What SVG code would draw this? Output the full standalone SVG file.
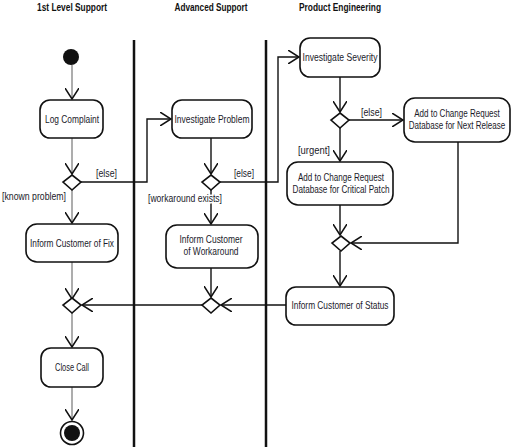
<svg xmlns="http://www.w3.org/2000/svg" width="513" height="447" viewBox="0 0 513 447">
<style>
.node{fill:#fff;stroke:#111;stroke-width:1.6}
.t{font-family:"Liberation Sans",Arial,sans-serif;font-size:11px;fill:#1a1a2a;text-anchor:middle}
.h{font-family:"Liberation Sans",Arial,sans-serif;font-size:11px;font-weight:bold;fill:#111;text-anchor:middle}
.g{font-family:"Liberation Sans",Arial,sans-serif;font-size:11px;fill:#1a1a2a}
.halo{paint-order:stroke;stroke:#fff;stroke-width:3px}
.c{fill:none;stroke:#111;stroke-width:1.4}
.cg{fill:none;stroke:#999;stroke-width:1.6}
.lane{stroke:#111;stroke-width:2.5}
</style>
<defs>
<marker id="a" viewBox="0 0 12 14" refX="11" refY="7" markerWidth="12" markerHeight="14" markerUnits="userSpaceOnUse" orient="auto">
<path d="M0,0 L11,7 L0,14" fill="none" stroke="#111" stroke-width="1.5"/>
</marker>
</defs>
<g id="lanes">
<text class="h" x="72" y="11" textLength="70" lengthAdjust="spacingAndGlyphs">1st Level Support</text>
<text class="h" x="211" y="11" textLength="73" lengthAdjust="spacingAndGlyphs">Advanced Support</text>
<text class="h" x="340" y="11" textLength="82" lengthAdjust="spacingAndGlyphs">Product Engineering</text>
<line class="lane" x1="134" y1="40" x2="134" y2="447"/>
<line class="lane" x1="266" y1="40" x2="266" y2="447"/>
</g>
<g id="connectors">
<line class="cg" x1="72" y1="65" x2="72" y2="99" marker-end="url(#a)"/>
<line class="cg" x1="72" y1="138" x2="72" y2="174" marker-end="url(#a)"/>
<line class="cg" x1="72" y1="190" x2="72" y2="223" marker-end="url(#a)"/>
<line class="cg" x1="72" y1="262" x2="72" y2="299" marker-end="url(#a)"/>
<line class="cg" x1="72" y1="313" x2="72" y2="347" marker-end="url(#a)"/>
<line class="cg" x1="72" y1="387" x2="72" y2="420" marker-end="url(#a)"/>
<polyline class="c" points="81,182 147,182 147,119 171,119" marker-end="url(#a)"/>
<line class="c" x1="211" y1="138" x2="211" y2="174" marker-end="url(#a)"/>
<line class="c" x1="211" y1="190" x2="211" y2="224" marker-end="url(#a)"/>
<line class="c" x1="211" y1="268" x2="211" y2="297" marker-end="url(#a)"/>
<polyline class="c" points="220,182 278,182 278,57 299,57" marker-end="url(#a)"/>
<line class="c" x1="340" y1="77" x2="340" y2="112" marker-end="url(#a)"/>
<line class="c" x1="349" y1="120" x2="403" y2="120" marker-end="url(#a)"/>
<line class="c" x1="340" y1="128" x2="340" y2="161" marker-end="url(#a)"/>
<line class="c" x1="340" y1="205" x2="340" y2="235" marker-end="url(#a)"/>
<polyline class="c" points="458,142 458,243 351,243" marker-end="url(#a)"/>
<line class="c" x1="340" y1="251" x2="340" y2="286" marker-end="url(#a)"/>
<line class="c" x1="286" y1="305" x2="221" y2="305" marker-end="url(#a)"/>
<line class="c" x1="202" y1="305" x2="82" y2="305" marker-end="url(#a)"/>
<text class="g" x="96" y="177" textLength="21" lengthAdjust="spacingAndGlyphs">[else]</text>
<text class="g" x="2" y="200" textLength="64" lengthAdjust="spacingAndGlyphs">[known problem]</text>
<text class="g" x="234" y="177" textLength="20" lengthAdjust="spacingAndGlyphs">[else]</text>
<text class="g halo" x="148" y="202" textLength="74" lengthAdjust="spacingAndGlyphs">[workaround exists]</text>
<text class="g" x="361" y="116" textLength="21" lengthAdjust="spacingAndGlyphs">[else]</text>
<text class="g" x="298" y="154" textLength="32" lengthAdjust="spacingAndGlyphs">[urgent]</text>
</g>
<g id="start"><circle cx="71" cy="57" r="8" fill="#111"/></g>
<g id="logComplaint"><rect class="node" x="40" y="100" width="63" height="38" rx="10"/><text class="t" x="72" y="123" textLength="54" lengthAdjust="spacingAndGlyphs">Log Complaint</text></g>
<g id="decision1"><polygon class="node" points="72,175 81,182 72,190 63,182"/></g>
<g id="informFix"><rect class="node" x="26" y="224" width="92" height="38" rx="11"/><text class="t" x="72" y="247" textLength="84" lengthAdjust="spacingAndGlyphs">Inform Customer of Fix</text></g>
<g id="merge1"><polygon class="node" points="72,298 81,305 72,313 63,305"/></g>
<g id="closeCall"><rect class="node" x="41" y="348" width="62" height="39" rx="10"/><text class="t" x="72" y="371" textLength="34" lengthAdjust="spacingAndGlyphs">Close Call</text></g>
<g id="end"><circle cx="72" cy="433" r="11.5" fill="#fff" stroke="#111" stroke-width="1.6"/><circle cx="72" cy="433" r="8" fill="#111"/></g>
<g id="investigateProblem"><rect class="node" x="172" y="100" width="80" height="38" rx="10"/><text class="t" x="212" y="123" textLength="75" lengthAdjust="spacingAndGlyphs">Investigate Problem</text></g>
<g id="decision2"><polygon class="node" points="211,175 220,182 211,190 202,182"/></g>
<g id="informWorkaround"><rect class="node" x="166" y="225" width="92" height="43" rx="11"/><text class="t" x="211" y="243" textLength="63" lengthAdjust="spacingAndGlyphs">Inform Customer</text><text class="t" x="211" y="255" textLength="55" lengthAdjust="spacingAndGlyphs">of Workaround</text></g>
<g id="merge2"><polygon class="node" points="211,298 220,305 211,313 202,305"/></g>
<g id="investigateSeverity"><rect class="node" x="300" y="38" width="80" height="39" rx="10"/><text class="t" x="340" y="61" textLength="75" lengthAdjust="spacingAndGlyphs">Investigate Severity</text></g>
<g id="decision3"><polygon class="node" points="340,113 349,120 340,128 331,120"/></g>
<g id="nextRelease"><rect class="node" x="404" y="98" width="106" height="44" rx="11"/><text class="t" transform="translate(457 117) scale(0.73 1)" x="0" y="0">Add to Change Request</text><text class="t" transform="translate(457 129) scale(0.73 1)" x="0" y="0">Database for Next Release</text></g>
<g id="criticalPatch"><rect class="node" x="287" y="162" width="106" height="43" rx="11"/><text class="t" x="341" y="181" textLength="86" lengthAdjust="spacingAndGlyphs">Add to Change Request</text><text class="t" x="341" y="193" textLength="97" lengthAdjust="spacingAndGlyphs">Database for Critical Patch</text></g>
<g id="merge3"><polygon class="node" points="341,236 350,243 341,251 332,243"/></g>
<g id="informStatus"><rect class="node" x="286" y="287" width="108" height="38" rx="10"/><text class="t" x="340" y="309" textLength="97" lengthAdjust="spacingAndGlyphs">Inform Customer of Status</text></g>
</svg>
